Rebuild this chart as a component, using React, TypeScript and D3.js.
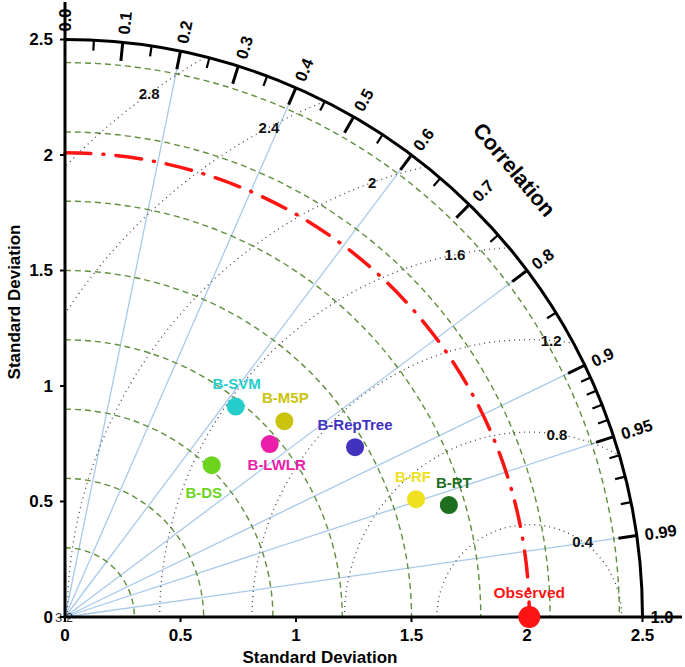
import React from "react";
import * as d3 from "d3";

const models = ["B-SVM", "B-M5P", "B-LWLR", "B-DS", "B-RepTree", "B-RF", "B-RT"];
const modelSD = [1.173, 1.273, 1.16, 0.914, 1.455, 1.603, 1.731];
const modelCorr = [0.63, 0.746, 0.764, 0.695, 0.863, 0.948, 0.96];
const observedSD = 2.01;

const sdTicks = [0, 0.5, 1, 1.5, 2, 2.5];
const sdArcs = [0.3, 0.6, 0.9, 1.2, 1.5, 1.8, 2.1, 2.4];
const rmsArcs = [0.4, 0.8, 1.2, 1.6, 2.0, 2.4, 2.8];
const rmsLabels = ["0.4", "0.8", "1.2", "1.6", "2", "2.4", "2.8"];
const corrMajor = [0, 0.1, 0.2, 0.3, 0.4, 0.5, 0.6, 0.7, 0.8, 0.9, 0.95, 0.99, 1.0];
const corrMajorLabels = ["0.0", "0.1", "0.2", "0.3", "0.4", "0.5", "0.6", "0.7", "0.8", "0.9", "0.95", "0.99", "1.0"];
const corrMinor = [0.05, 0.15, 0.25, 0.35, 0.45, 0.55, 0.65, 0.75, 0.85, 0.91, 0.92, 0.93, 0.94, 0.96, 0.97, 0.98];
const corrLines = [0.2, 0.4, 0.6, 0.8, 0.9, 0.95, 0.99];

// styling / layout
const palette = ["#25CDCD", "#CBC30C", "#EA1EA9", "#6CD41C", "#4232BE", "#F0E11E", "#1D6E1D"];
const labelOffsets: [number, number][] = [[1, -23], [1, -24], [7, 20], [-8, 27], [0, -23], [-3, -23], [5, -23]];
const rmsLabelAngles = [54.8, 81.4, 85.5, 101.6, 109.9, 118, 126];

const OX = 65;
const OY = 617;
const FONT = "Liberation Sans, Arial, sans-serif";

export default function App() {
  const r = d3.scaleLinear().domain([0, 2.5]).range([0, 577.5]);
  const R = r(2.5);
  const pt = (sd: number, c: number) => {
    const th = Math.acos(c);
    return [OX + r(sd) * Math.cos(th), OY - r(sd) * Math.sin(th)];
  };
  const arcQuarter = (rad: number) => {
    const p = d3.path();
    p.arc(OX, OY, rad, -Math.PI / 2, 0, false);
    return p.toString();
  };

  const obs = pt(observedSD, 1);

  const rmsPath = (rad: number) => {
    const p = d3.path();
    p.arc(obs[0], obs[1], r(rad), Math.PI, 2 * Math.PI, false);
    return p.toString();
  };

  return (
    <svg width={685} height={667} style={{ position: "absolute", left: 0, top: 0, background: "#fff" }} fontFamily={FONT}>
      <defs>
        <clipPath id="quarter">
          <path d={`M${OX},${OY} L${OX + R},${OY} A${R},${R} 0 0 0 ${OX},${OY - R} Z`} />
        </clipPath>
      </defs>

      {/* correlation radial lines */}
      {corrLines.map((c, i) => {
        const [x, y] = pt(2.42, c);
        return <line key={"cl" + i} x1={OX} y1={OY} x2={x} y2={y} stroke="#a9c9ea" strokeWidth={1.3} />;
      })}

      {/* SD arcs */}
      {sdArcs.map((s, i) => (
        <path key={"sa" + i} d={arcQuarter(r(s))} fill="none" stroke="#5f8f3c" strokeWidth={1.4} strokeDasharray="6,4" />
      ))}

      {/* RMS arcs */}
      <g clipPath="url(#quarter)">
        {rmsArcs.map((s, i) => (
          <path key={"ra" + i} d={rmsPath(s)} fill="none" stroke="#444" strokeWidth={1.3} strokeDasharray="1,4" />
        ))}
        <path d={rmsPath(3.2)} fill="none" stroke="#444" strokeWidth={1.3} strokeDasharray="1,4" />
      </g>
      {rmsArcs.map((s, i) => {
        const a = (rmsLabelAngles[i] * Math.PI) / 180;
        const x = obs[0] + r(s) * Math.cos(a);
        const y = obs[1] - r(s) * Math.sin(a);
        return (
          <text key={"rl" + i} x={x} y={y} textAnchor="middle" dominantBaseline="central" fontSize={15} fontWeight="bold" fill="#111">
            {rmsLabels[i]}
          </text>
        );
      })}
      <text x={64} y={622} textAnchor="middle" fontSize={13} fill="#333">3.2</text>

      {/* observed SD arc, red dash-dot */}
      <path d={arcQuarter(r(observedSD))} fill="none" stroke="#ff1414" strokeWidth={3.5}
        strokeDasharray="26,12,1,12" strokeLinecap="round" />

      {/* outer arc and axes */}
      <path d={arcQuarter(R)} fill="none" stroke="#000" strokeWidth={3} />
      <line x1={OX} y1={OY} x2={OX} y2={2} stroke="#000" strokeWidth={3} />
      <line x1={OX - 1.5} y1={OY} x2={682} y2={OY} stroke="#000" strokeWidth={3} />

      {/* correlation ticks */}
      {corrMajor.filter(c => c > 0 && c < 1).map((c, i) => {
        const [x1, y1] = pt(2.5, c);
        const [x2, y2] = pt(2.42, c);
        return <line key={"mt" + i} x1={x1} y1={y1} x2={x2} y2={y2} stroke="#000" strokeWidth={3} />;
      })}
      {corrMinor.map((c, i) => {
        const [x1, y1] = pt(2.5, c);
        const [x2, y2] = pt(2.455, c);
        return <line key={"nt" + i} x1={x1} y1={y1} x2={x2} y2={y2} stroke="#000" strokeWidth={2.2} />;
      })}
      {corrMajor.map((c, i) => {
        const th = Math.acos(c);
        const deg = (th * 180) / Math.PI;
        const [x, y] = pt(2.535, c);
        return (
          <text key={"ml" + i} transform={`translate(${x},${y}) rotate(${-deg})`} x={0} y={0}
            textAnchor="start" dominantBaseline="central" fontSize={16.5} fontWeight="bold" fill="#000">
            {corrMajorLabels[i]}
          </text>
        );
      })}
      <text transform={`translate(514,170) rotate(50)`} textAnchor="middle" dominantBaseline="central" fontSize={21.5} fontWeight="bold">
        Correlation
      </text>

      {/* SD ticks */}
      {sdTicks.map((s, i) => (
        <g key={"yt" + i}>
          <line x1={OX - 5} x2={OX} y1={OY - r(s)} y2={OY - r(s)} stroke="#000" strokeWidth={2} />
          <text x={OX - 12} y={OY - r(s)} textAnchor="end" dominantBaseline="central" fontSize={17} fontWeight="bold">
            {String(s)}
          </text>
        </g>
      ))}
      {sdTicks.map((s, i) => (
        <g key={"xt" + i}>
          <line x1={OX + r(s)} x2={OX + r(s)} y1={OY} y2={OY + 5} stroke="#000" strokeWidth={2} />
          <text x={OX + r(s)} y={OY + 18} textAnchor="middle" dominantBaseline="central" fontSize={17} fontWeight="bold">
            {String(s)}
          </text>
        </g>
      ))}
      <text x={320} y={657} textAnchor="middle" dominantBaseline="central" fontSize={17} fontWeight="bold">Standard Deviation</text>
      <text transform={`translate(14,302) rotate(-90)`} textAnchor="middle" dominantBaseline="central" fontSize={17} fontWeight="bold">
        Standard Deviation
      </text>

      {/* model points */}
      {models.map((m, i) => {
        const [x, y] = pt(modelSD[i], modelCorr[i]);
        return (
          <g key={"p" + i}>
            <circle cx={x} cy={y} r={9} fill={palette[i]} />
            <text x={x + labelOffsets[i][0]} y={y + labelOffsets[i][1]} textAnchor="middle" dominantBaseline="central"
              fontSize={15} fontWeight="bold" fill={palette[i]}>
              {m}
            </text>
          </g>
        );
      })}

      {/* observed */}
      <circle cx={obs[0]} cy={obs[1]} r={11} fill="#ff1414" />
      <text x={obs[0]} y={obs[1] - 25} textAnchor="middle" dominantBaseline="central" fontSize={15.5} fontWeight="bold" fill="#ff1414">
        Observed
      </text>
    </svg>
  );
}
